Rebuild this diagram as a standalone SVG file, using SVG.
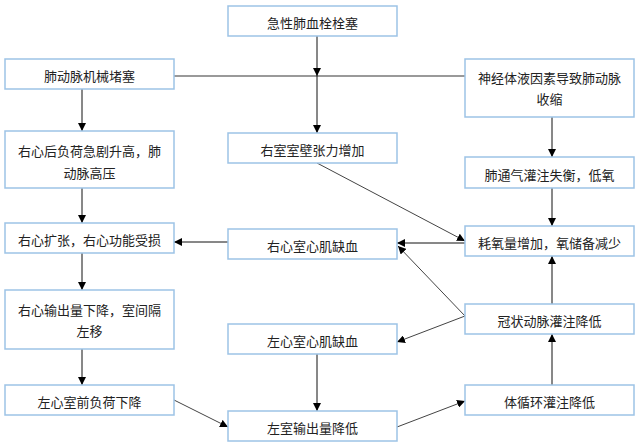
<svg xmlns="http://www.w3.org/2000/svg" width="640" height="447" viewBox="0 0 640 447">
<defs>
<marker id="ah" markerUnits="userSpaceOnUse" markerWidth="9" markerHeight="8" refX="8" refY="4" orient="auto">
<path d="M0,0 L8,4 L0,8 z" fill="#000"/>
</marker>
<style>
.box{fill:#fff;stroke:#9dc3e6;stroke-width:1.5}
.t{font-family:"Noto Sans CJK SC","Liberation Sans",sans-serif;font-size:13px;fill:#222;text-anchor:middle;dominant-baseline:central}
.c{fill:none;stroke:#111;stroke-width:1}
.d{fill:none;stroke:#444;stroke-width:1}
.h{fill:none;stroke:#777;stroke-width:1.5}
</style>
</defs>
<rect width="640" height="447" fill="#fff"/>
<g id="connectors">
<line class="h" x1="174" y1="76" x2="465" y2="76"/>
<line class="c" x1="317" y1="36" x2="317" y2="76" marker-end="url(#ah)"/>
<line class="c" x1="317" y1="76" x2="317" y2="133" marker-end="url(#ah)"/>
<line class="c" x1="82" y1="89" x2="82" y2="131" marker-end="url(#ah)"/>
<line class="c" x1="82" y1="188" x2="82" y2="223" marker-end="url(#ah)"/>
<line class="c" x1="82" y1="253" x2="82" y2="290" marker-end="url(#ah)"/>
<line class="c" x1="82" y1="349" x2="82" y2="385" marker-end="url(#ah)"/>
<line class="c" x1="552" y1="117" x2="552" y2="157" marker-end="url(#ah)"/>
<line class="c" x1="552" y1="188" x2="552" y2="226" marker-end="url(#ah)"/>
<line class="c" x1="552" y1="304" x2="552" y2="256" marker-end="url(#ah)"/>
<line class="c" x1="552" y1="385" x2="552" y2="334" marker-end="url(#ah)"/>
<line class="c" x1="228" y1="242" x2="174" y2="242" marker-end="url(#ah)"/>
<line class="c" x1="465" y1="243" x2="397" y2="243" marker-end="url(#ah)"/>
<line class="d" x1="317" y1="163" x2="465" y2="241" marker-end="url(#ah)"/>
<line class="d" x1="465" y1="316" x2="398" y2="246" marker-end="url(#ah)"/>
<line class="d" x1="465" y1="316" x2="397" y2="342" marker-end="url(#ah)"/>
<line class="c" x1="317" y1="354" x2="317" y2="411" marker-end="url(#ah)"/>
<line class="d" x1="174" y1="400" x2="228" y2="427" marker-end="url(#ah)"/>
<line class="d" x1="397" y1="427" x2="465" y2="401" marker-end="url(#ah)"/>
</g>
<g id="n1"><rect class="box" x="228" y="6" width="169" height="30"/><text class="t" x="312.5" y="22">急性肺血栓栓塞</text></g>
<g id="n2"><rect class="box" x="5" y="59" width="169" height="30"/><text class="t" x="89.5" y="75">肺动脉机械堵塞</text></g>
<g id="n3"><rect class="box" x="465" y="59" width="169" height="58"/><text class="t" x="549.5" y="77">神经体液因素导致肺动脉</text><text class="t" x="549.5" y="98">收缩</text></g>
<g id="n4"><rect class="box" x="5" y="131" width="169" height="57"/><text class="t" x="89.5" y="150">右心后负荷急剧升高，肺</text><text class="t" x="89.5" y="172">动脉高压</text></g>
<g id="n5"><rect class="box" x="228" y="133" width="169" height="30"/><text class="t" x="312.5" y="149">右室室壁张力增加</text></g>
<g id="n6"><rect class="box" x="465" y="157" width="169" height="31"/><text class="t" x="549.5" y="174">肺通气灌注失衡，低氧</text></g>
<g id="n7"><rect class="box" x="5" y="223" width="169" height="30"/><text class="t" x="89.5" y="239">右心扩张，右心功能受损</text></g>
<g id="n8"><rect class="box" x="228" y="229" width="169" height="30"/><text class="t" x="312.5" y="245">右心室心肌缺血</text></g>
<g id="n9"><rect class="box" x="465" y="226" width="169" height="30"/><text class="t" x="549.5" y="242">耗氧量增加，氧储备减少</text></g>
<g id="n10"><rect class="box" x="5" y="290" width="169" height="59"/><text class="t" x="89.5" y="309">右心输出量下降，室间隔</text><text class="t" x="89.5" y="330">左移</text></g>
<g id="n11"><rect class="box" x="465" y="304" width="169" height="30"/><text class="t" x="549.5" y="320">冠状动脉灌注降低</text></g>
<g id="n12"><rect class="box" x="228" y="324" width="169" height="30"/><text class="t" x="312.5" y="340">左心室心肌缺血</text></g>
<g id="n13"><rect class="box" x="5" y="385" width="169" height="30"/><text class="t" x="89.5" y="401">左心室前负荷下降</text></g>
<g id="n14"><rect class="box" x="465" y="385" width="169" height="30"/><text class="t" x="549.5" y="401">体循环灌注降低</text></g>
<g id="n15"><rect class="box" x="228" y="411" width="169" height="30"/><text class="t" x="312.5" y="427">左室输出量降低</text></g>
</svg>
